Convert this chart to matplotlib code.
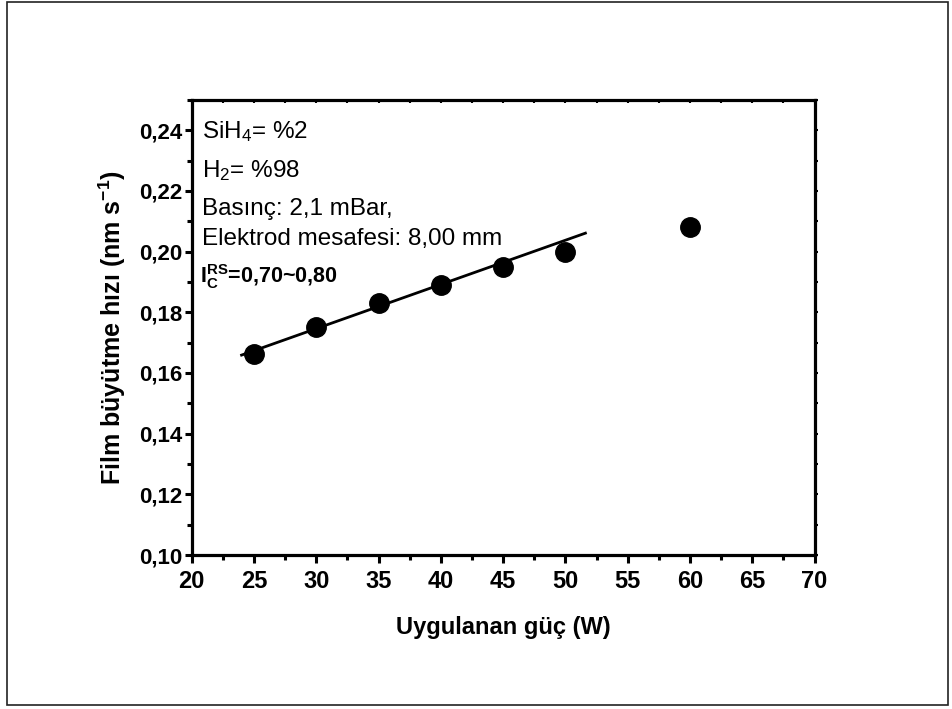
import matplotlib
matplotlib.use('Agg')
import matplotlib.pyplot as plt
from matplotlib.patches import Rectangle
from matplotlib.ticker import MultipleLocator

plt.rcParams['font.family'] = ['Liberation Sans', 'DejaVu Sans']
plt.rcParams['mathtext.fontset'] = 'custom'
plt.rcParams['mathtext.rm'] = 'Liberation Sans'
plt.rcParams['mathtext.it'] = 'Liberation Sans:italic'
plt.rcParams['mathtext.bf'] = 'Liberation Sans:bold'

# veri
power = [25, 30, 35, 40, 45, 50, 60]
rate = [0.1663, 0.1751, 0.1830, 0.1890, 0.1951, 0.2000, 0.2080]
fit_x = [24.0, 51.6]
fit_y = [0.1659, 0.2061]

y_ticks = [0.10, 0.12, 0.14, 0.16, 0.18, 0.20, 0.22, 0.24]

notes = [
    r'SiH$_4$= %2',
    r'H$_2$= %98',
    'Basınç: 2,1 mBar,',
    'Elektrod mesafesi: 8,00 mm',
]
note_y = [0.2375, 0.2246, 0.2121, 0.2022]
note_ic = r'$\mathbf{I}_{\mathbf{C}}^{\mathbf{RS}}$=0,70~0,80'

fig = plt.figure(figsize=(9.53, 7.09), dpi=100)
fig.patches.append(Rectangle((0.0075, 0.006), 0.987, 0.991, transform=fig.transFigure,
                             fill=False, edgecolor='#222222', linewidth=1.2))

ax = fig.add_axes([0.2012, 0.2172, 0.6536, 0.6418])
ax.plot(power, rate, 'o', color='black', markersize=14, zorder=3)
ax.plot(fit_x, fit_y, '-', color='black', linewidth=2.0, zorder=2)

ax.set_xlim(20, 70)
ax.set_ylim(0.10, 0.25)
ax.xaxis.set_major_locator(MultipleLocator(5))
ax.xaxis.set_minor_locator(MultipleLocator(2.5))
ax.yaxis.set_minor_locator(MultipleLocator(0.01))
ax.set_yticks(y_ticks)
ax.set_yticklabels([f'{v:.2f}'.replace('.', ',') for v in y_ticks])

for sp in ax.spines.values():
    sp.set_linewidth(2.3)

ax.tick_params(axis='x', which='major', direction='out', length=6, width=2.2,
               labelsize=17, pad=5)
ax.tick_params(axis='y', which='major', direction='out', length=5, width=2.2,
               labelsize=16, pad=2)
ax.tick_params(which='minor', direction='out', length=3.5, width=2.2)
for lab in ax.get_xticklabels() + ax.get_yticklabels():
    lab.set_fontweight('bold')

# ust ve sag eksen: kucuk isaretler
top = ax.secondary_xaxis('top')
top.set_xticks([20 + 2.5 * i for i in range(21)])
top.tick_params(direction='in', length=2.5, width=1.5, labeltop=False)
top.spines['top'].set_visible(False)
right = ax.secondary_yaxis('right')
right.set_yticks([0.10 + 0.01 * i for i in range(16)])
right.tick_params(direction='out', length=2.5, width=1.5, labelright=False)
right.spines['right'].set_visible(False)

ax.set_xlabel('Uygulanan güç (W)', fontsize=17, fontweight='bold', labelpad=16)
ax.set_ylabel(r'Film büyütme hızı (nm s$^{\mathbf{-1}}$)', fontsize=18,
              fontweight='bold', labelpad=8)

for t, yv in zip(notes, note_y):
    ax.text(20.8, yv, t, fontsize=17.5, ha='left', va='baseline')
ax.text(20.7, 0.1897, note_ic, fontsize=15.5, fontweight='bold', ha='left', va='baseline')

fig.savefig('out.png', dpi=100)
